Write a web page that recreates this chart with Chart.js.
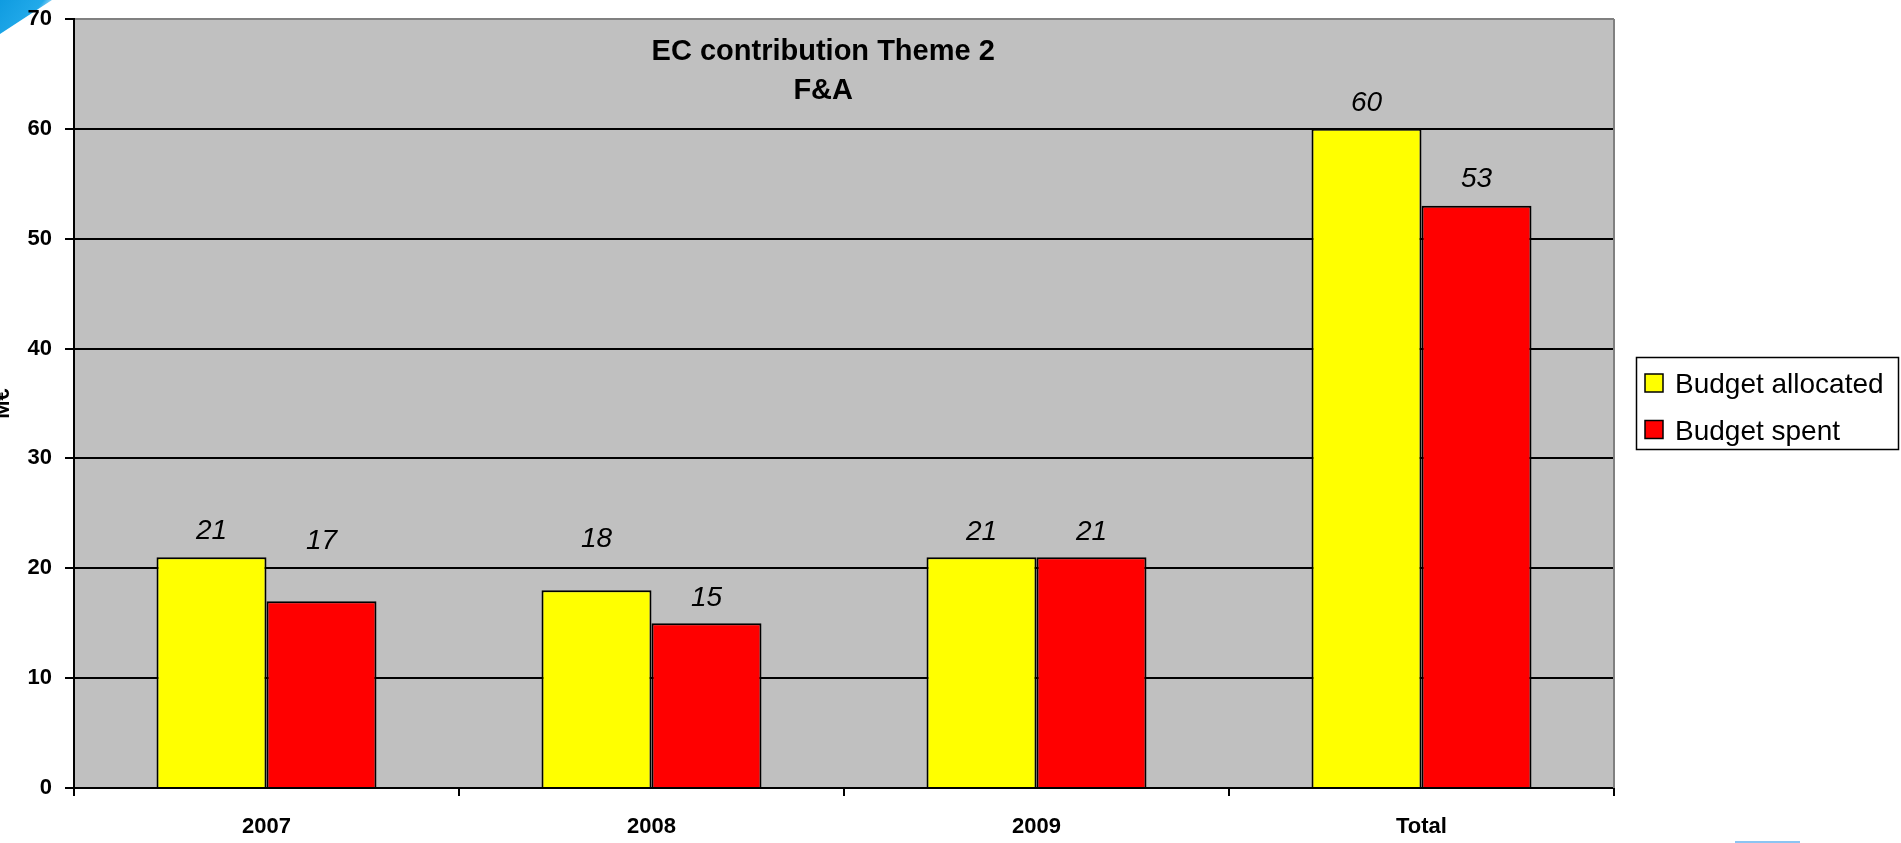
<!DOCTYPE html>
<html>
<head>
<meta charset="utf-8">
<script src="https://cdn.jsdelivr.net/npm/chart.js@4.4.1/dist/chart.umd.min.js"></script>
<style>
    html, body { margin: 0; padding: 0; background: #ffffff; }
    canvas { display: block; }
</style>
</head>
<body>
<canvas id="myChart" width="1901" height="843"></canvas>
<script>
// data
const years = ['2007', '2008', '2009', 'Total'];
const budgetAllocated = [21, 18, 21, 60];
const budgetSpent = [17, 15, 21, 53];
const yTicks = [0, 10, 20, 30, 40, 50, 60, 70];

const FONT = '"Liberation Sans", Arial, sans-serif';

// how far above the bar top each value label sits (Excel moved a couple of them)
const labelLift = [
    [18, 43, 17, 18],
    [52, 17, 17, 19]
];

// grey plot area, corner decorations, axis title
const backgroundPlugin = {
    id: 'background',
    beforeDraw(chart) {
        const c = chart.ctx;
        const a = chart.chartArea;
        c.save();
        c.fillStyle = '#ffffff';
        c.fillRect(0, 0, chart.width, chart.height);
        c.fillStyle = '#c0c0c0';
        c.fillRect(a.left, a.top, a.right - a.left, a.bottom - a.top);

        // blue corner (slide template)
        const g = c.createLinearGradient(0, 0, 40, 30);
        g.addColorStop(0, '#0f9be0');
        g.addColorStop(0.7, '#22aaea');
        g.addColorStop(1, 'rgba(120,200,245,0.3)');
        c.fillStyle = g;
        c.beginPath();
        c.moveTo(0, 0);
        c.lineTo(52, 0);
        c.lineTo(0, 34);
        c.closePath();
        c.fill();

        c.fillStyle = '#8cc4f2';
        c.fillRect(1735, 841, 65, 2);
        c.restore();
    },
    afterDraw(chart) {
        const c = chart.ctx;
        const a = chart.chartArea;
        c.save();
        // right border of the plot
        c.strokeStyle = '#808080';
        c.lineWidth = 2;
        c.beginPath();
        c.moveTo(a.right, a.top);
        c.lineTo(a.right, a.bottom);
        c.stroke();

        // y axis title, mostly cut by the left edge
        c.translate(9, (a.top + a.bottom) / 2);
        c.rotate(-Math.PI / 2);
        c.fillStyle = '#000';
        c.font = 'bold 22px ' + FONT;
        c.textAlign = 'center';
        c.textBaseline = 'alphabetic';
        c.fillText('M€', 0, 0);
        c.restore();
    }
};

// title inside the plot area + value labels
const labelsPlugin = {
    id: 'valueLabels',
    afterDatasetsDraw(chart) {
        const c = chart.ctx;
        const a = chart.chartArea;
        c.save();
        c.fillStyle = '#000';
        c.textAlign = 'center';
        c.textBaseline = 'alphabetic';

        c.font = 'bold 29px ' + FONT;
        const tx = a.left + (a.right - a.left) * 0.4865;
        c.fillText('EC contribution Theme 2', tx, a.top + 41);
        c.fillText('F&A', tx, a.top + 80);

        c.font = 'italic 28px ' + FONT;
        chart.data.datasets.forEach((ds, i) => {
            chart.getDatasetMeta(i).data.forEach((bar, j) => {
                c.fillText(String(ds.data[j]), bar.x, bar.y - labelLift[i][j]);
            });
        });
        c.restore();
    }
};

// framed legend on the right
const legendPlugin = {
    id: 'boxLegend',
    afterDraw(chart) {
        const c = chart.ctx;
        c.save();
        c.strokeStyle = '#000';
        c.lineWidth = 1.5;
        c.strokeRect(1636.5, 357.5, 262, 92);
        c.font = '28px ' + FONT;
        c.textAlign = 'left';
        c.textBaseline = 'alphabetic';
        chart.data.datasets.forEach((ds, i) => {
            const y = 374 + i * 46.5;
            c.fillStyle = ds.backgroundColor;
            c.fillRect(1645, y, 18, 18);
            c.lineWidth = 1.5;
            c.strokeRect(1645, y, 18, 18);
            c.fillStyle = '#000';
            c.fillText(ds.label, 1675, y + 19);
        });
        c.restore();
    }
};

// keep the axes from pushing the plot area around
function noPadding(scale) {
    scale.paddingTop = 0;
    scale.paddingBottom = 0;
    scale.paddingLeft = 0;
    scale.paddingRight = 0;
}

const ctx = document.getElementById('myChart').getContext('2d');
const chart = new Chart(ctx, {
    type: 'bar',
    data: {
        labels: years,
        datasets: [
            {
                label: 'Budget allocated',
                data: budgetAllocated,
                backgroundColor: '#ffff00',
                borderColor: '#000000',
                borderWidth: 2
            },
            {
                label: 'Budget spent',
                data: budgetSpent,
                backgroundColor: '#ff0000',
                borderColor: '#000000',
                borderWidth: 2
            }
        ]
    },
    options: {
        responsive: false,
        animation: false,
        categoryPercentage: 2 / 3.5,
        barPercentage: 1,
        layout: {
            padding: { top: 19, right: 287, left: 0, bottom: 0 }
        },
        scales: {
            x: {
                afterFit(scale) { scale.height = 55; noPadding(scale); },
                grid: {
                    offset: true,
                    drawOnChartArea: false,
                    color: '#000',
                    lineWidth: 2,
                    tickLength: 8
                },
                border: { color: '#000', width: 2 },
                ticks: {
                    color: '#000',
                    font: { family: FONT, size: 22, weight: 'bold' },
                    padding: 18
                }
            },
            y: {
                min: 0,
                max: 70,
                afterFit(scale) { scale.width = 74; noPadding(scale); },
                afterBuildTicks(scale) {
                    scale.ticks = yTicks.map(v => ({ value: v }));
                },
                grid: {
                    color: c => (c.tick && c.tick.value === 70 ? '#808080' : '#000'),
                    tickColor: '#000',
                    lineWidth: 2,
                    tickLength: 9
                },
                border: { color: '#000', width: 2 },
                ticks: {
                    color: '#000',
                    font: { family: FONT, size: 22, weight: 'bold' },
                    padding: 13
                }
            }
        },
        plugins: {
            legend: { display: false },
            title: { display: false },
            tooltip: { enabled: false }
        }
    },
    plugins: [backgroundPlugin, labelsPlugin, legendPlugin]
});
</script>
</body>
</html>
